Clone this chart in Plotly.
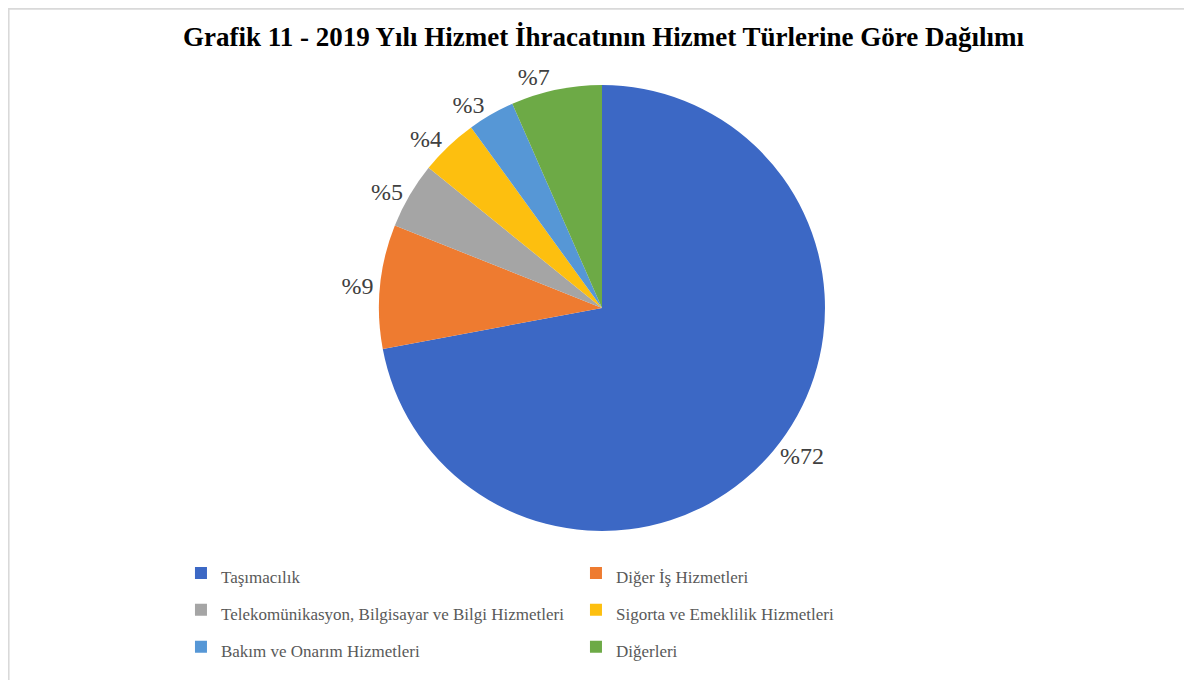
import plotly.graph_objects as go

# Hizmet türleri ve payları (%)
categories = [
    "Taşımacılık",
    "Diğer İş Hizmetleri",
    "Telekomünikasyon, Bilgisayar ve Bilgi Hizmetleri",
    "Sigorta ve Emeklilik Hizmetleri",
    "Bakım ve Onarım Hizmetleri",
    "Diğerleri",
]
shares = [72.2, 9.0, 4.8, 4.2, 3.4, 6.6]
share_labels = ["%72", "%9", "%5", "%4", "%3", "%7"]
colors = ["#3C68C5", "#EE7B30", "#A5A5A5", "#FDBF0F", "#5697D6", "#6DAA46"]

serif = "Liberation Serif, Times New Roman, serif"

# Satır aralığını açmak için legend yazıları küçük span içinde
legend_names = [f"<span style='font-size:17px'>{c}</span>" for c in categories]

fig = go.Figure()
fig.add_trace(go.Pie(
    labels=legend_names,
    values=shares,
    text=share_labels,
    texttemplate="%{text}",
    textposition="outside",
    textfont=dict(family=serif, size=24, color="#404040"),
    marker=dict(colors=colors, line=dict(width=0)),
    sort=False,
    direction="clockwise",
    rotation=0,
    domain=dict(x=[0.3187, 0.7019], y=[0.2217, 0.8854]),
    hoverinfo="label+percent",
))

# sayfa gövdesinin 8px kenar boşluğu yüzünden 1184x672
# sağ boşluk 20px: legend her satırda iki öğe kalsın diye
fig.update_layout(
    width=1184, height=672,
    margin=dict(l=0, r=20, t=0, b=0),
    paper_bgcolor="white",
    plot_bgcolor="white",
    title=dict(
        text="<b>Grafik 11 - 2019 Yılı Hizmet İhracatının Hizmet Türlerine Göre Dağılımı</b>",
        font=dict(family=serif, size=27, color="black"),
        x=0.503, xanchor="center", y=0.958, yanchor="middle",
    ),
    legend=dict(
        orientation="h",
        x=0.1486, xanchor="left",
        y=0.194, yanchor="top",
        entrywidth=350, entrywidthmode="pixels",
        font=dict(family=serif, size=26, color="#595959"),
        itemwidth=30,
    ),
    showlegend=True,
    shapes=[dict(
        type="rect", xref="paper", yref="paper",
        x0=0.0005, x1=1.05, y0=-0.05, y1=0.999,
        line=dict(color="#D9D9D9", width=2),
        fillcolor="rgba(0,0,0,0)", layer="below",
    )],
)

fig.write_html("out.html")
